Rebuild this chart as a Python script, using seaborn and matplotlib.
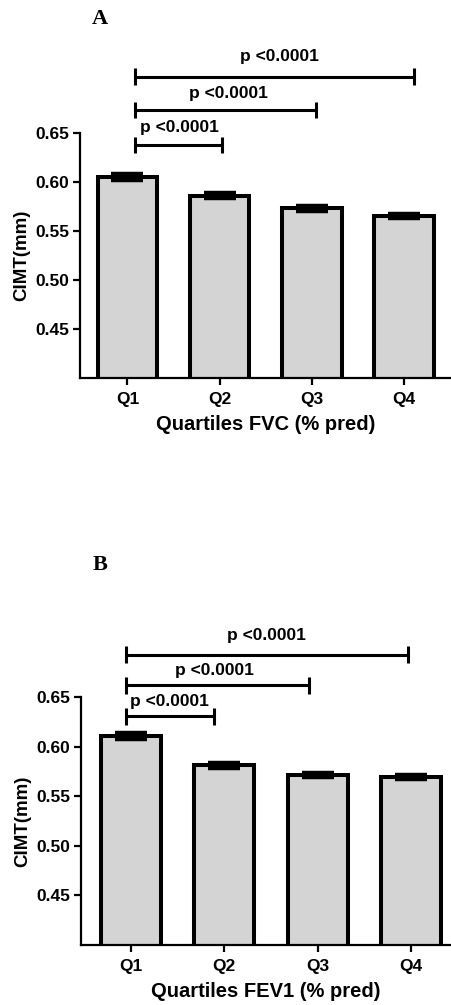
import numpy as np
import pandas as pd
import seaborn as sns
import matplotlib
matplotlib.use("Agg")
import matplotlib.pyplot as plt

# ---- data ----
quartiles = ["Q1", "Q2", "Q3", "Q4"]

cimt_fvc = [0.605, 0.586, 0.573, 0.565]
sem_fvc = [0.0028, 0.0025, 0.0025, 0.0022]

cimt_fev1 = [0.611, 0.581, 0.571, 0.569]
sem_fev1 = [0.003, 0.0025, 0.002, 0.002]

p_label = "p <0.0001"

sns.set_style("ticks")
plt.rcParams["font.family"] = ["Liberation Sans", "DejaVu Sans"]
plt.rcParams["text.color"] = "black"
plt.rcParams["axes.labelcolor"] = "black"
plt.rcParams["xtick.color"] = "black"
plt.rcParams["ytick.color"] = "black"
plt.rcParams["axes.edgecolor"] = "black"

fig = plt.figure(figsize=(4.51, 10.05), dpi=100)
W, H = 451.0, 1005.0


def panel(rect, vals, sems, xlabel, letter, letter_xy, xlim, brackets, texts):
    l, t, r, b = rect
    ax = fig.add_axes([l / W, 1 - b / H, (r - l) / W, (b - t) / H])
    df = pd.DataFrame({"q": quartiles, "cimt": vals})
    sns.barplot(data=df, x="q", y="cimt", ax=ax, color="#d4d4d4", saturation=1,
                width=0.645, edgecolor="black", linewidth=2.9, errorbar=None)
    ax.errorbar(np.arange(len(vals)), vals, yerr=sems, fmt="none", ecolor="black",
                elinewidth=2.5, capsize=11.5, capthick=3.2, zorder=5)
    ax.set_ylim(0.40, 0.65)
    ax.set_xlim(*xlim)
    ax.set_yticks([0.45, 0.50, 0.55, 0.60, 0.65])
    ax.set_yticklabels(["0.45", "0.50", "0.55", "0.60", "0.65"])
    sns.despine(ax=ax)
    for s in ["left", "bottom"]:
        ax.spines[s].set_linewidth(1.6)
    ax.tick_params(axis="both", width=1.6, length=5, labelsize=12.5)
    ax.tick_params(axis="y", pad=2.5)
    ax.tick_params(axis="x", pad=5)
    for lab in ax.get_xticklabels() + ax.get_yticklabels():
        lab.set_fontweight("bold")
    ax.set_ylabel("CIMT(mm)", fontsize=13.5, fontweight="bold", labelpad=4)
    ax.set_xlabel(xlabel, fontsize=14.5, fontweight="bold", labelpad=6)

    # significance brackets
    for (x0, x1, y, h) in brackets:
        ax.plot([x0, x1], [y, y], color="black", lw=2.2, clip_on=False,
                solid_capstyle="butt")
        for xx in (x0, x1):
            ax.plot([xx, xx], [y - h, y + h], color="black", lw=2.2,
                    clip_on=False, solid_capstyle="butt")
    for (xt, yt) in texts:
        ax.text(xt, yt, p_label, ha="center", va="center", fontsize=12.5,
                fontweight="bold", clip_on=False)

    fig.text(letter_xy[0] / W, 1 - letter_xy[1] / H, letter, ha="center",
             va="center", fontsize=16, fontweight="bold",
             family=["Liberation Serif", "DejaVu Serif"])
    return ax


panel((80, 133, 451, 378), cimt_fvc, sem_fvc, "Quartiles FVC (% pred)", "A",
      (100, 19), (-0.515, 3.51),
      [(0.081, 1.03, 0.6378, 0.0085), (0.081, 2.04, 0.6735, 0.0085),
       (0.081, 3.11, 0.7074, 0.0085)],
      [(0.566, 0.6557), (1.10, 0.690), (1.65, 0.7279)])

panel((81, 697, 451, 945), cimt_fev1, sem_fev1, "Quartiles FEV1 (% pred)", "B",
      (100, 565), (-0.536, 3.43),
      [(-0.054, 0.893, 0.6307, 0.0085), (-0.054, 1.91, 0.6617, 0.0085),
       (-0.054, 2.97, 0.6927, 0.0085)],
      [(0.41, 0.645), (0.895, 0.6764), (1.45, 0.7122)])

fig.savefig("out.png", dpi=100)
